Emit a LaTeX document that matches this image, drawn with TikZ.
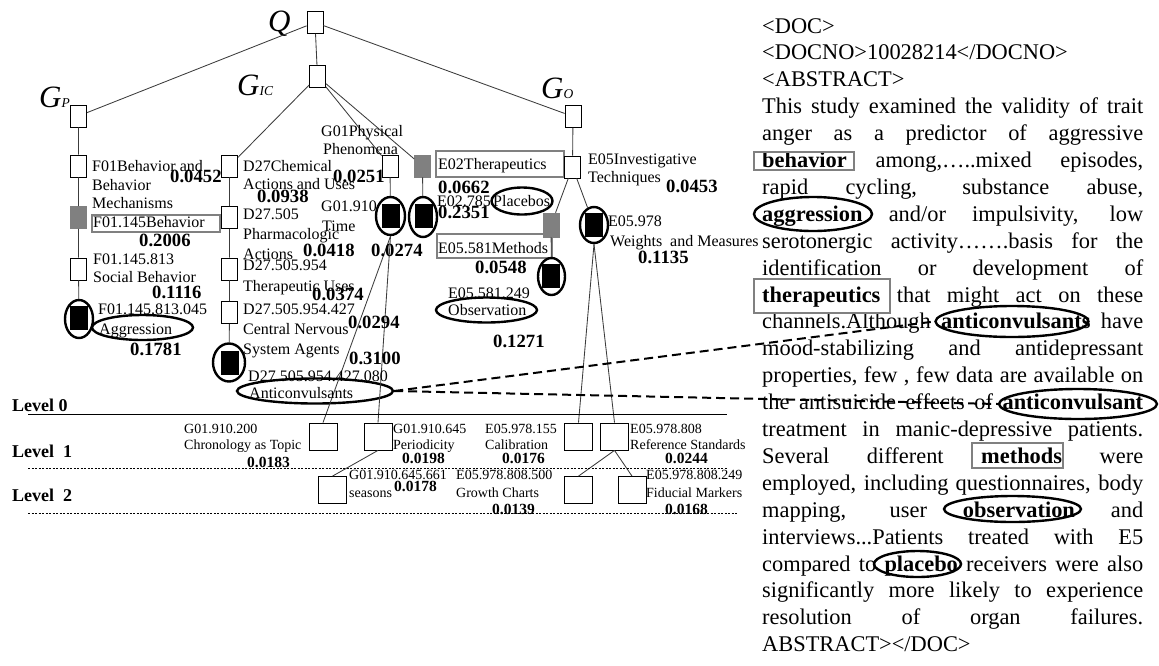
\documentclass[tikz,border=0pt]{standalone}
\usepackage{fontspec}
\setmainfont{Liberation Serif}
\usetikzlibrary{shapes.geometric}
\definecolor{gfr}{RGB}{128,128,128}
\definecolor{gfill}{RGB}{128,128,128}
\definecolor{tl}{RGB}{60,60,60}
\begin{document}
\begin{tikzpicture}[x=1pt,y=-1pt,
  box/.style={draw=black, line width=0.8pt, fill=white, minimum width=16pt, minimum height=22pt, inner sep=0pt},
  gbox/.style={draw=gfill, fill=gfill, line width=0.6pt, minimum width=16pt, minimum height=22pt, inner sep=0pt},
  bbox/.style={draw=black, fill=black, minimum width=17pt, minimum height=23pt, inner sep=0pt},
  lbox/.style={draw=black, line width=0.8pt, fill=white, minimum width=28pt, minimum height=27pt, inner sep=0pt},
  ring/.style={ellipse, draw=black, line width=2.4pt, inner sep=0pt},
  gframe/.style={draw=gfr, line width=2.5pt, inner sep=0pt},
  tline/.style={draw=tl, line width=0.85pt},
  dashc/.style={draw=black, line width=2pt, dash pattern=on 9pt off 5pt},
  tlab/.style={anchor=base west, inner sep=0pt, font=\fontsize{16}{17}\selectfont},
  tnum/.style={anchor=base west, inner sep=0pt, font=\fontsize{18.7}{20}\selectfont\bfseries},
  slab/.style={anchor=base west, inner sep=0pt, font=\fontsize{14}{16}\selectfont},
  snum/.style={anchor=base west, inner sep=0pt, font=\fontsize{15.5}{17}\selectfont\bfseries},
  lvl/.style={anchor=base west, inner sep=0pt, font=\fontsize{18}{19}\selectfont\bfseries},
  glab/.style={anchor=base west, inner sep=0pt, font=\fontsize{31}{31}\selectfont\itshape},
  rtext/.style={anchor=base west, inner sep=0pt, font=\fontsize{22.4}{27}\selectfont}
]
\useasboundingbox (0,0) rectangle (1159,665);

% ---------- group labels ----------
\node[glab] (lq) at (268,31) {Q};
\node[glab] (lgp) at (39,107) {G\fontsize{13.5}{13.5}\selectfont P};
\node[glab] (lgic) at (237,95) {G\fontsize{13.5}{13.5}\selectfont IC};
\node[glab] (lgo) at (541,98) {G\fontsize{13.5}{13.5}\selectfont O};

% ---------- highlight frames and rings (tree) ----------
\node[gframe, minimum width=128pt, minimum height=17pt] (fr1) at (156,223.5) {};
\node[gframe, minimum width=128pt, minimum height=26pt] (fr2) at (500,164) {};
\node[gframe, minimum width=115pt, minimum height=24pt] (fr3) at (494.5,246) {};
\node[ring, minimum width=101pt, minimum height=25pt] (agg) at (142.5,327.5) {};
\node[ring, minimum width=156pt, minimum height=25pt] (ac) at (315,391) {};
\node[ring, minimum width=61pt, minimum height=27pt] (plc) at (522,201) {};
\node[ring, minimum width=101pt, minimum height=25pt] (obs) at (486.5,310) {};

% ---------- tree nodes ----------
\node[box] (Q) at (315,22.5) {};
\node[box] (GIC) at (317.5,76.5) {};
\node[box] (GP) at (78.5,116) {};
\node[box] (GO) at (573,116.5) {};
\node[box] (F01) at (78.5,166) {};
\node[gbox] (F145) at (78.5,217.5) {};
\node[box] (F813) at (78.5,269) {};
\node[bbox] (F045) at (79,318) {};
\node[ring, minimum width=28pt, minimum height=38pt] (F045e) at (79,319) {};
\node[box] (D27) at (229.5,166) {};
\node[box] (D505) at (229.5,217.5) {};
\node[box] (D954) at (229.5,269) {};
\node[box] (D427) at (229.5,312.5) {};
\node[bbox] (D080) at (229.5,362.5) {};
\node[ring, minimum width=32pt, minimum height=38pt] (D080e) at (229,362.5) {};
\node[box] (G01) at (390,166) {};
\node[bbox] (G910) at (391,215.5) {};
\node[ring, minimum width=29pt, minimum height=38pt] (G910e) at (390.5,216) {};
\node[gbox] (E02) at (422.5,166) {};
\node[bbox] (E785) at (423.5,215.5) {};
\node[ring, minimum width=28pt, minimum height=40pt] (E785e) at (423,217) {};
\node[box] (E05) at (572.5,167) {};
\node[gbox, minimum height=24pt] (E581) at (551,225) {};
\node[bbox] (E249) at (551,276) {};
\node[ring, minimum width=27pt, minimum height=37pt] (E249e) at (551.5,276.5) {};
\node[bbox] (E978) at (593.5,225) {};
\node[ring, minimum width=28pt, minimum height=36pt] (E978e) at (594,225) {};

% level boxes
\node[lbox] (B1) at (323,436.5) {};
\node[lbox] (B2) at (378,436.5) {};
\node[lbox] (B3) at (578.5,436.5) {};
\node[lbox] (B4) at (614.5,436.5) {};
\node[lbox] (B5) at (332.5,490) {};
\node[lbox] (B6) at (578.5,490) {};
\node[lbox] (B7) at (632,490) {};

% ---------- tree connectors ----------
\draw[tline] (Q) -- (GP);
\draw[tline] (Q) -- (GIC);
\draw[tline] (Q) -- (GO);
\draw[tline] (GIC) -- (D27);
\draw[tline] (GIC) -- (G01);
\draw[tline] (GIC) -- (E02);
\draw[tline] (GP) -- (F01) -- (F145) -- (F813) -- (F045e);
\draw[tline] (D27) -- (D505) -- (D954) -- (D427) -- (D080e);
\draw[tline] (G01) -- (G910e);
\draw[tline] (E02) -- (E785e);
\draw[tline] (GO) -- (E05);
\draw[tline] (E05) -- (E581);
\draw[tline] (E05) -- (E978e);
\draw[tline] (E581) -- (E249e);
\draw[tline] (G910e.south) -- (B1.north);
\draw[tline] (G910e.south) -- (B2.north);
\draw[tline] (B2.south) -- (B5.north);
\draw[tline] (E978e.south) -- (B3.north);
\draw[tline] (E978e.south) -- (B4.north);
\draw[tline] (B4.south) -- (B6.north);
\draw[tline] (B4.south) -- (B7.north);

% ---------- level lines ----------
\node[lvl] (lv0) at (12,411) {Level 0};
\node[lvl] (lv1) at (12,457) {Level\ \ 1};
\node[lvl] (lv2) at (12,501) {Level\ \ 2};
\draw[black, line width=0.9pt] (28,414) -- (727,414);
\draw[black, line width=0.8pt, dash pattern=on 2.2pt off 1.3pt] (28,468) -- (727,468);
\draw[black, line width=0.8pt, dash pattern=on 2.2pt off 1.3pt] (28,513) -- (737,513);

% ---------- tree labels ----------
\node[tlab] at (92,171) {F01Behavior and};
\node[tlab] at (92,190) {Behavior};
\node[tlab] at (92,208) {Mechanisms};
\node[tnum] at (170,182) {0.0452};
\node[tlab] at (93,227) {F01.145Behavior};
\node[tnum] at (139,246) {0.2006};
\node[tlab] at (93,264) {F01.145.813};
\node[tlab] at (93,282) {Social Behavior};
\node[tnum] at (152,298) {0.1116};
\node[tlab] at (98,314) {F01.145.813.045};
\node[tlab] at (99,334) {Aggression};
\node[tnum] at (130,355) {0.1781};

\node[tlab] at (243,171) {D27Chemical};
\node[tlab] at (243,189) {Actions and Uses};
\node[tnum] at (257,202) {0.0938};
\node[tlab] at (243,219) {D27.505};
\node[tlab] at (243,239) {Pharmacologic};
\node[tlab] at (243,259) {Actions};
\node[tnum] at (303,256) {0.0418};
\node[tlab] at (243,270) {D27.505.954};
\node[tlab] at (243,291) {Therapeutic Uses};
\node[tnum] at (312,300) {0.0374};
\node[tlab] at (243,314) {D27.505.954.427};
\node[tlab] at (243,334) {Central Nervous};
\node[tnum] at (348,328) {0.0294};
\node[tlab] at (243,354) {System Agents};
\node[tnum] at (349,364) {0.3100};
\node[tlab] at (248,381) {D27.505.954.427.080};
\node[tlab] at (249,398) {Anticonvulsants};

\node[tlab] at (321,136) {G01Physical};
\node[tlab] at (323,154) {Phenomena};
\node[tnum] at (333,182) {0.0251};
\node[tlab] at (321,211) {G01.910};
\node[tlab] at (322,231) {Time};
\node[tnum] at (371,256) {0.0274};

\node[tlab] at (438,169) {E02Therapeutics};
\node[tnum] at (438,193) {0.0662};
\node[tlab] at (437,206) {E02.785};
\node[tlab] at (493,206) {Placebos};
\node[tnum] at (438,218) {0.2351};

\node[tlab] at (588,164) {E05Investigative};
\node[tlab] at (588,182) {Techniques};
\node[tnum] at (666,192) {0.0453};
\node[tlab] at (608,226) {E05.978};
\node[tlab] at (610,246) {Weights\ \ and Measures};
\node[tnum] at (638,263) {0.1135};
\node[tlab] at (438,253) {E05.581Methods};
\node[tnum] at (475,273) {0.0548};
\node[tlab] at (448,298) {E05.581.249};
\node[tlab] at (448,315) {Observation};
\node[tnum] at (493,347) {0.1271};

% bottom labels
\node[slab] at (184,433) {G01.910.200};
\node[slab] at (184,449) {Chronology as Topic};
\node[snum] at (247,467) {0.0183};
\node[slab] at (393,433) {G01.910.645};
\node[slab] at (393,449) {Periodicity};
\node[snum] at (402,463) {0.0198};
\node[slab] at (485,433) {E05.978.155};
\node[slab] at (485,449) {Calibration};
\node[snum] at (502,463) {0.0176};
\node[slab] at (630,433) {E05.978.808};
\node[slab] at (630,449) {Reference Standards};
\node[snum] at (665,463) {0.0244};
\node[slab] at (349,479) {G01.910.645.661};
\node[slab] at (349,497) {seasons};
\node[snum] at (394,491) {0.0178};
\node[slab] at (456,479) {E05.978.808.500};
\node[slab] at (456,497) {Growth Charts};
\node[snum] at (492,514) {0.0139};
\node[slab] at (646,479) {E05.978.808.249};
\node[slab] at (646,497) {Fiducial Markers};
\node[snum] at (665,514) {0.0168};

% ---------- document text ----------
\node[rtext] (r0) at (762,33) {<DOC>};
\node[rtext] (r1) at (762,59.9) {<DOCNO>10028214</DOCNO>};
\node[rtext] (r2) at (762,86.8) {<ABSTRACT>};
\node[rtext] (r3) at (762,113.7) {\makebox[381pt][s]{This study examined the validity of trait}};
\node[rtext] (r4) at (762,140.6) {\makebox[381pt][s]{anger as a predictor of aggressive}};
\node[rtext] (r5) at (762,167.5) {\makebox[381pt][s]{\textbf{behavior} among,…..mixed episodes,}};
\node[rtext] (r6) at (762,194.4) {\makebox[381pt][s]{rapid cycling, substance abuse,}};
\node[rtext] (r7) at (762,221.3) {\makebox[381pt][s]{\textbf{aggression} and/or impulsivity, low}};
\node[rtext] (r8) at (762,248.2) {\makebox[381pt][s]{serotonergic activity…….basis for the}};
\node[rtext] (r9) at (762,275.1) {\makebox[381pt][s]{identification or development of}};
\node[rtext] (r10) at (762,302) {\makebox[381pt][s]{\textbf{therapeutics} that might act on these}};
\node[rtext] (r11) at (762,328.9) {\makebox[381pt][s]{channels.Although \textbf{anticonvulsants} have}};
\node[rtext] (r12) at (762,355.8) {\makebox[381pt][s]{mood-stabilizing and antidepressant}};
\node[rtext] (r13) at (762,382.7) {\makebox[381pt][s]{properties, few , few data are available on}};
\node[rtext] (r14) at (762,409.6) {\makebox[381pt][s]{the antisuicide effects of \textbf{anticonvulsant}}};
\node[rtext] (r15) at (762,436.5) {\makebox[381pt][s]{treatment in manic-depressive patients.}};
\node[rtext] (r16) at (762,463.4) {\makebox[381pt][s]{Several different \textbf{methods} were}};
\node[rtext] (r17) at (762,490.3) {\makebox[381pt][s]{employed, including questionnaires, body}};
\node[rtext] (r18) at (762,517.2) {\makebox[381pt][s]{mapping, user \textbf{observation} and}};
\node[rtext] (r19) at (762,544.1) {\makebox[381pt][s]{interviews...Patients treated with E5}};
\node[rtext] (r20) at (762,571) {\makebox[381pt][s]{compared to \textbf{placebo} receivers were also}};
\node[rtext] (r21) at (762,597.9) {\makebox[381pt][s]{significantly more likely to experience}};
\node[rtext] (r22) at (762,624.8) {\makebox[381pt][s]{resolution of organ failures.}};
\node[rtext] (r23) at (762,651.7) {ABSTRACT></DOC>};

% text highlights
\node[gframe, minimum width=100pt, minimum height=18pt] (tbeh) at (804,161) {};
\node[ring, minimum width=118pt, minimum height=34pt] (tagg) at (813,214) {};
\node[gframe, minimum width=136pt, minimum height=34pt] (tther) at (822,296) {};
\node[ring, minimum width=153pt, minimum height=31pt] (tac1) at (1012,321.5) {};
\node[ring, minimum width=158pt, minimum height=30pt] (tac2) at (1078,404) {};
\node[gframe, minimum width=91pt, minimum height=25pt] (tmeth) at (1017.5,455.5) {};
\node[ring, minimum width=137pt, minimum height=26pt] (tobs) at (1012.5,509) {};
\node[ring, minimum width=87pt, minimum height=26pt] (tplc) at (917.5,564) {};

% dashed links
\draw[dashc] (ac.east) -- (tac1.west);
\draw[dashc] (ac.east) -- (tac2.west);
\end{tikzpicture}
\end{document}
